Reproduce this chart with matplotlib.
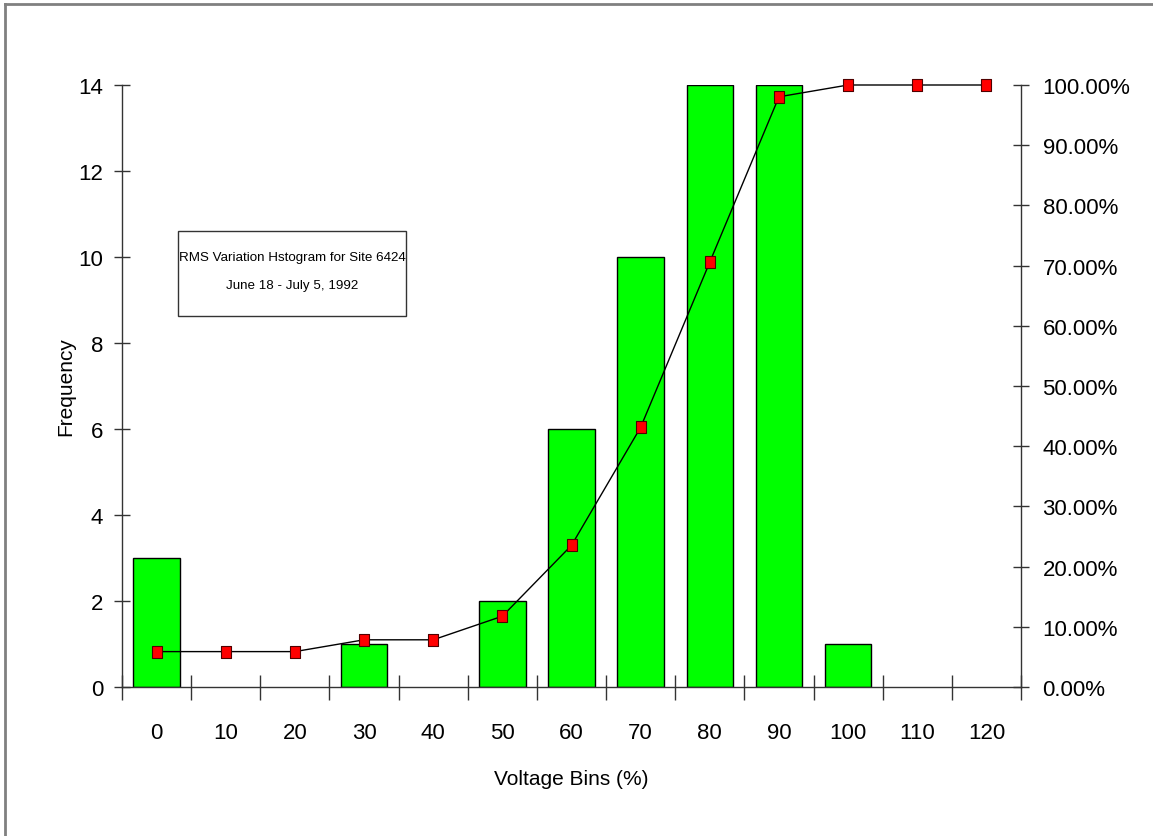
import matplotlib
matplotlib.use("Agg")
import matplotlib.pyplot as plt
from matplotlib.ticker import FixedLocator, FuncFormatter
from matplotlib.lines import Line2D
from matplotlib.patches import Rectangle

plt.rcParams['font.family'] = ['Liberation Sans', 'DejaVu Sans']

bins = ["0", "10", "20", "30", "40", "50", "60", "70", "80", "90", "100", "110", "120"]
frequency = [3, 0, 0, 1, 0, 2, 6, 10, 14, 14, 1, 0, 0]
cumulative_pct = [5.88, 5.88, 5.88, 7.84, 7.84, 11.76, 23.53, 43.14, 70.59, 98.04, 100.0, 100.0, 100.0]
left_ticks = [0, 2, 4, 6, 8, 10, 12, 14]
right_ticks = [0, 10, 20, 30, 40, 50, 60, 70, 80, 90, 100]
title_lines = ["RMS Variation Hstogram for Site 6424", "June 18 - July 5, 1992"]

W, H = 1153, 837
fig = plt.figure(figsize=(W / 100, H / 100), dpi=100)

# figure border (top and left visible)
fig.add_artist(Line2D([5 / W, 5 / W], [0, 1 - 5 / H], color='#808080', lw=2, transform=fig.transFigure))
fig.add_artist(Line2D([5 / W, 1], [1 - 5 / H, 1 - 5 / H], color='#808080', lw=2, transform=fig.transFigure))

x0, x1 = 122 / W, 1021 / W
y0, y1 = 1 - 688 / H, 1 - 86 / H
ax = fig.add_axes([x0, y0, x1 - x0, y1 - y0])
n = len(bins)
xs = list(range(n))
ax.bar(xs, frequency, width=0.67, color='#00FF00', edgecolor='black',
       linewidth=[1 if f > 0 else 0 for f in frequency], zorder=2)
ax.set_xlim(-0.5, n - 0.5)
ax.set_ylim(0, 14)
ax.spines['top'].set_visible(False)
ax.spines['right'].set_visible(False)
for s in ['left', 'bottom']:
    ax.spines[s].set_linewidth(1)
    ax.spines[s].set_color('#333333')
    ax.spines[s].set_zorder(3)

ax.xaxis.set_major_locator(FixedLocator([i - 0.5 for i in range(n + 1)]))
ax.xaxis.set_major_formatter(FuncFormatter(lambda v, p: ""))
ax.xaxis.set_minor_locator(FixedLocator(xs))
ax.set_xticklabels(bins, minor=True)
ax.tick_params(axis='x', which='major', direction='inout', length=18, width=1, color='#333333')
ax.tick_params(axis='x', which='minor', length=0, pad=25, labelsize=16)
ax.set_yticks(left_ticks)
ax.tick_params(axis='y', direction='inout', length=11, width=1, color='#333333', labelsize=16, pad=8)
ax.set_xlabel("Voltage Bins (%)", fontsize=15, labelpad=19)
ax.set_ylabel("Frequency", fontsize=15, labelpad=2)

ax2 = ax.twinx()
ax2.set_ylim(0, 100)
ax2.set_xlim(-0.5, n - 0.5)
ax2.plot(xs, cumulative_pct, color='black', lw=1, zorder=3, clip_on=False,
         marker=[(-0.75, -1), (0.75, -1), (0.75, 1), (-0.75, 1), (-0.75, -1)],
         markersize=9, markerfacecolor='#FF0000', markeredgecolor='#500000', markeredgewidth=0.8)
ax2.set_yticks(right_ticks)
ax2.yaxis.set_major_formatter(FuncFormatter(lambda v, p: f"{v:.2f}%"))
ax2.tick_params(axis='y', direction='inout', length=11, width=1, color='#333333', labelsize=16, pad=10)
for s in ['top', 'left', 'bottom']:
    ax2.spines[s].set_visible(False)
ax2.spines['right'].set_linewidth(1)
ax2.spines['right'].set_color('#333333')

# annotation box
bx0, bx1, by0, by1 = 178, 406, 232, 317
fig.add_artist(Rectangle((bx0 / W, 1 - by1 / H), (bx1 - bx0) / W, (by1 - by0) / H,
                         transform=fig.transFigure, facecolor='white', edgecolor='#333333', linewidth=1))
fig.text((bx0 + bx1) / 2 / W, 1 - 258 / H, title_lines[0], ha='center', va='center', fontsize=9.6)
fig.text((bx0 + bx1) / 2 / W, 1 - 286 / H, title_lines[1], ha='center', va='center', fontsize=9.6)

fig.savefig("out.png", dpi=100)
